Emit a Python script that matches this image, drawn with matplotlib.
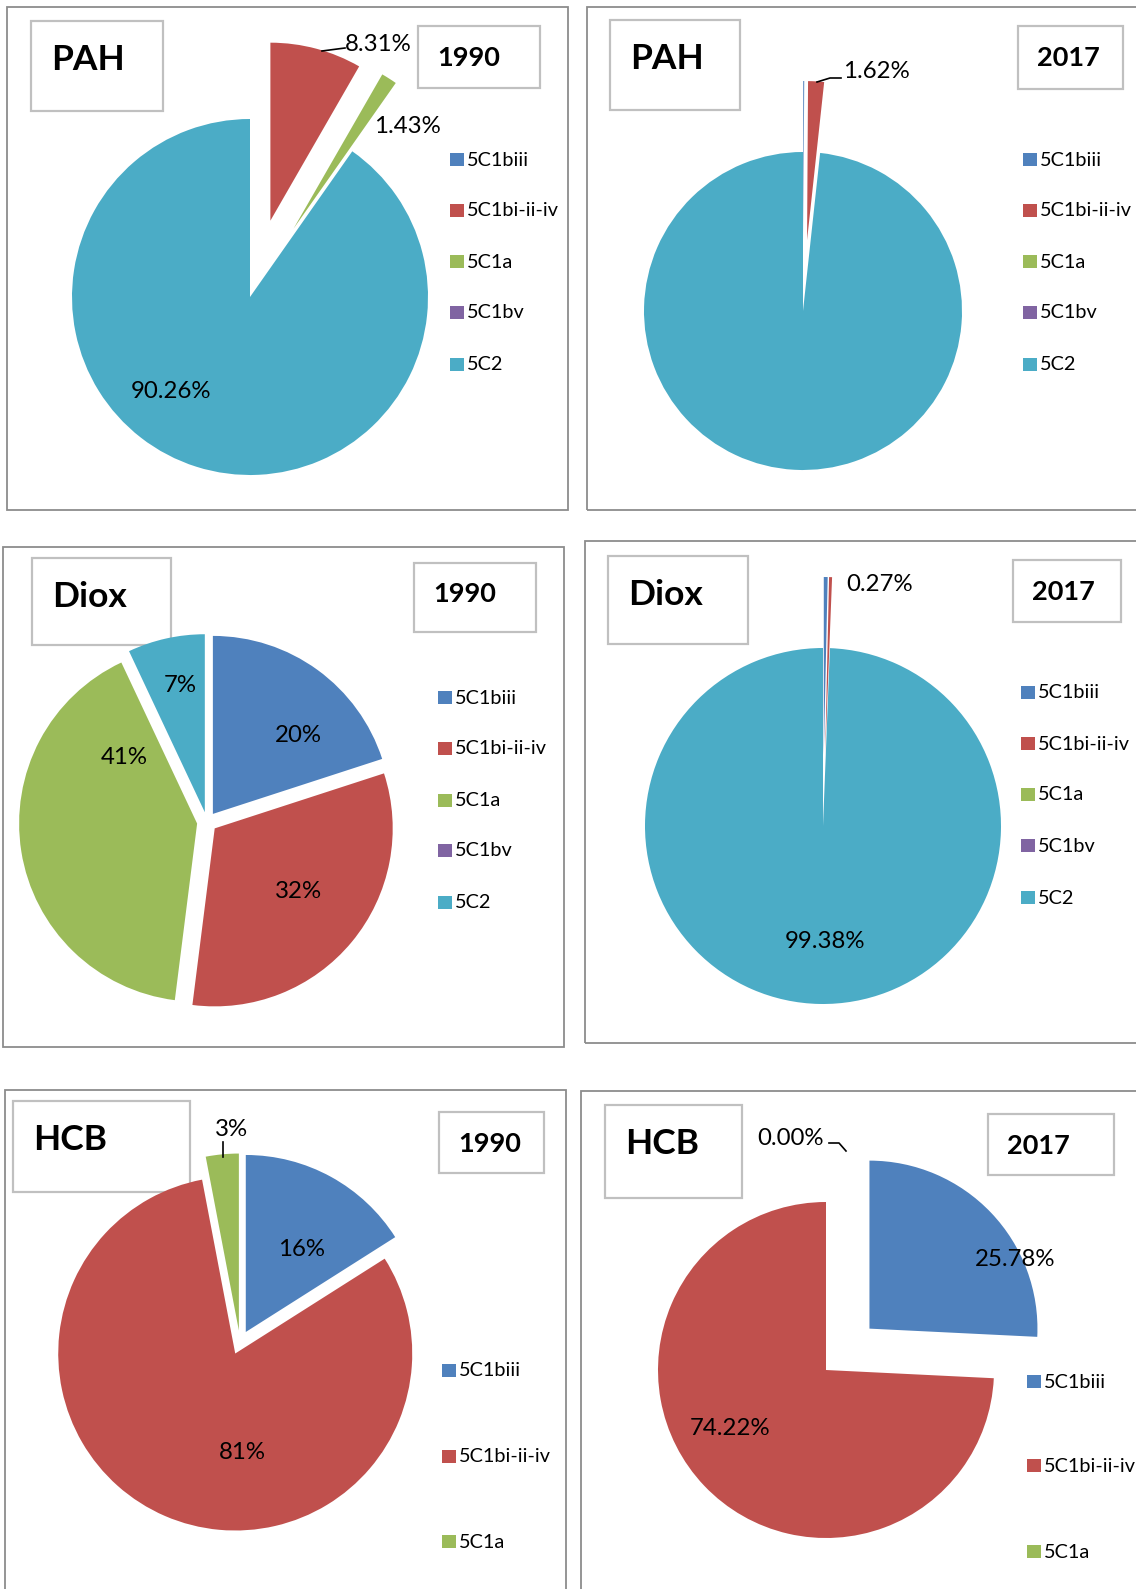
import matplotlib
matplotlib.use("Agg")
import matplotlib.pyplot as plt
from matplotlib.patches import Rectangle

W, H = 1136, 1589
plt.rcParams["font.family"] = ["Lato", "DejaVu Sans"]

# Excel 2007 default series colours
COLORS = ["#4F81BD", "#C0504D", "#9BBB59", "#8064A2", "#4BACC6"]

# ---- data (shares in %) ----
categories = ["5C1biii", "5C1bi-ii-iv", "5C1a", "5C1bv", "5C2"]
pah_1990 = [0.0, 8.31, 1.43, 0.0, 90.26]
pah_2017 = [0.1, 1.62, 0.0, 0.0, 98.38]
diox_1990 = [20, 32, 41, 0, 7]
diox_2017 = [0.35, 0.27, 0.0, 0.0, 99.38]
hcb_1990 = [16, 81, 3]
hcb_2017 = [25.78, 74.22, 0.00]

# ---- layout (pixels, origin top-left) ----
panels = [
    dict(name="PAH", year="1990", vals=pah_1990, fmt="{:.2f}%",
         frame=(7, 7, 568, 510), tbox=(31, 21, 163, 111), ybox=(418, 26, 540, 88),
         center=(250, 297), r=178, explode=[0, 79, 81, 0, 0],
         labels={1: (378, 43), 2: (407, 125), 4: (171, 390)},
         leaders=[[(322, 51), (345, 48)]],
         leg_x=450, leg_y=[159, 210, 261, 312, 364]),
    dict(name="PAH", year="2017", vals=pah_2017, fmt="{:.2f}%",
         frame=(587, 7, 1160, 510), tbox=(610, 20, 740, 110), ybox=(1018, 26, 1123, 89),
         center=(803, 311), r=159, explode=[71, 71, 0, 0, 0],
         labels={1: (876, 70)},
         leaders=[[(817, 82), (830, 78), (841, 78)]],
         leg_x=1023, leg_y=[159, 210, 261, 312, 364]),
    dict(name="Diox", year="1990", vals=diox_1990, fmt="{:.0f}%",
         frame=(3, 547, 564, 1047), tbox=(32, 558, 171, 645), ybox=(414, 563, 536, 632),
         center=(207, 822), r=178, explode=[10, 10, 10, 10, 10],
         labels={0: (298, 734), 1: (298, 890), 2: (124, 756), 4: (180, 684)},
         leaders=[],
         leg_x=438, leg_y=[697, 748, 800, 850, 902]),
    dict(name="Diox", year="2017", vals=diox_2017, fmt="{:.2f}%",
         frame=(585, 541, 1160, 1043), tbox=(608, 556, 748, 644), ybox=(1013, 560, 1121, 622),
         center=(823, 826), r=178, explode=[71, 71, 0, 0, 0],
         labels={1: (880, 583), 4: (825, 940)},
         leaders=[],
         leg_x=1021, leg_y=[692, 743, 794, 845, 897]),
    dict(name="HCB", year="1990", vals=hcb_1990, fmt="{:.0f}%",
         frame=(5, 1090, 566, 1640), tbox=(13, 1101, 190, 1192), ybox=(439, 1112, 544, 1173),
         center=(240, 1342.5), r=177, explode=[12, 12, 12],
         labels={0: (302, 1248), 1: (242, 1451), 2: (231, 1128)},
         leaders=[[(223, 1142), (223, 1157)]],
         leg_x=442, leg_y=[1370, 1456, 1541]),
    dict(name="HCB", year="2017", vals=hcb_2017, fmt="{:.2f}%",
         frame=(581, 1091, 1160, 1640), tbox=(605, 1105, 742, 1198), ybox=(988, 1114, 1114, 1175),
         center=(826, 1370), r=168, explode=[60, 0, 0],
         labels={0: (1015, 1258), 1: (730, 1427), 2: (791, 1137)},
         leaders=[[(829, 1143), (839, 1143), (846, 1151)]],
         leg_x=1027, leg_y=[1381, 1465, 1551]),
]

LABEL_FS = 17.3
LEGEND_FS = 14.3

fig = plt.figure(figsize=(W / 100, H / 100), dpi=100)
ax = fig.add_axes([0, 0, 1, 1])


def box(x0, y0, x1, y1, color, lw):
    ax.add_patch(Rectangle((x0, H - y1), x1 - x0, y1 - y0, fill=False,
                           edgecolor=color, linewidth=lw, clip_on=False, zorder=1))


for p in panels:
    vals = p["vals"]
    n = len(vals)
    box(*p["frame"], "#8C8C8C", 1.3)
    box(*p["tbox"], "#C0C0C0", 1.6)
    box(*p["ybox"], "#C0C0C0", 1.6)

    tx0, ty0 = p["tbox"][:2]
    ax.text(tx0 + 20, H - (ty0 + 49), p["name"], fontsize=25.5, fontweight="bold",
            ha="left", va="baseline")
    yx0, yy0 = p["ybox"][:2]
    ax.text(yx0 + 19, H - (yy0 + 39.5), p["year"], fontsize=19.5, fontweight="bold",
            ha="left", va="baseline")

    cx, cy = p["center"]
    ax.pie(vals, colors=COLORS[:n], startangle=90, counterclock=False,
           center=(cx, H - cy), radius=p["r"], explode=p["explode"],
           wedgeprops=dict(linewidth=0))

    for i, (lx, ly) in p["labels"].items():
        ax.text(lx, H - (ly + 8.3), p["fmt"].format(vals[i]),
                fontsize=LABEL_FS, ha="center", va="baseline", color="black")
    for pts in p["leaders"]:
        ax.plot([q[0] for q in pts], [H - q[1] for q in pts], color="black", lw=1.2)

    for i in range(n):
        ly = p["leg_y"][i]
        ax.add_patch(Rectangle((p["leg_x"], H - ly - 6.5), 14, 13,
                               facecolor=COLORS[i], edgecolor="none"))
        ax.text(p["leg_x"] + 17, H - (ly + 6.5), categories[i], fontsize=LEGEND_FS,
                ha="left", va="baseline")

ax.set_xlim(0, W)
ax.set_ylim(0, H)
ax.set_aspect("equal")
ax.axis("off")

fig.savefig("out.png", dpi=100, facecolor="white")
